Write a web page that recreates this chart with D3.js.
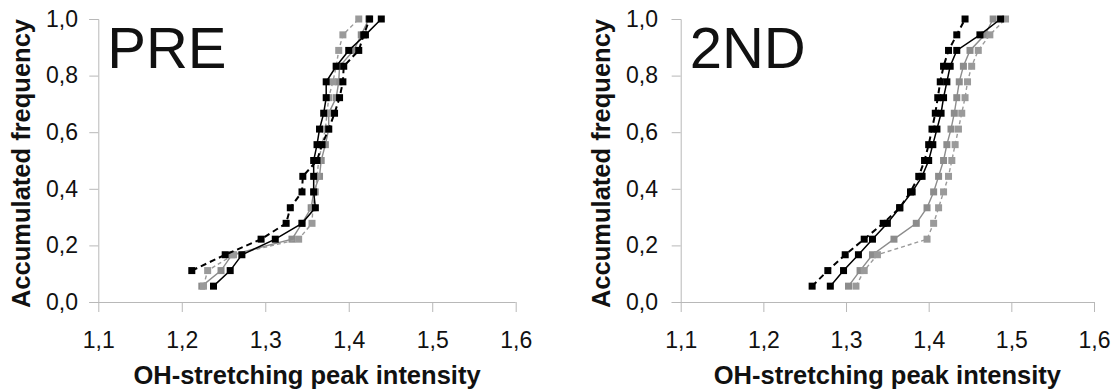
<!DOCTYPE html>
<html>
<head>
<meta charset="utf-8">
<script src="https://cdn.jsdelivr.net/npm/d3@7"></script>
<style>
  html, body { margin: 0; padding: 0; background: #fff; }
  svg { display: block; }
  text { font-family: "Liberation Sans", Arial, sans-serif; fill: #111; }
</style>
</head>
<body>
<svg id="chart" width="1120" height="391"></svg>
<script>
// Cumulative frequency levels (18 samples per group)
const accumulatedFrequency = [0.056, 0.111, 0.167, 0.222, 0.278, 0.333, 0.389, 0.444, 0.5,
                              0.556, 0.611, 0.667, 0.722, 0.778, 0.833, 0.889, 0.944, 1.0];

// PRE: OH-stretching peak intensity per rank
const preBlackSolid  = [1.238, 1.258, 1.272, 1.312, 1.344, 1.360, 1.358, 1.358, 1.358,
                        1.362, 1.365, 1.370, 1.373, 1.373, 1.385, 1.400, 1.420, 1.439];
const preBlackDashed = [null, 1.212, 1.252, 1.295, 1.325, 1.330, 1.344, 1.345, 1.362,
                        1.368, 1.376, 1.383, 1.389, 1.393, 1.394, 1.412, 1.418, 1.425];
const preGraySolid   = [1.224, 1.247, 1.260, 1.332, 1.344, 1.355, 1.358, 1.365, 1.367,
                        1.372, 1.376, 1.376, 1.385, 1.388, 1.389, 1.406, 1.415, 1.424];
const preGrayDashed  = [1.226, 1.231, 1.262, 1.340, 1.356, 1.357, 1.360, 1.362, 1.364,
                        1.368, 1.372, 1.374, 1.376, 1.381, 1.385, 1.388, 1.393, 1.412];

// 2ND: OH-stretching peak intensity per rank
const secBlackSolid  = [1.281, 1.297, 1.315, 1.332, 1.350, 1.365, 1.380, 1.392, 1.400,
                        1.405, 1.410, 1.415, 1.418, 1.422, 1.426, 1.434, 1.462, 1.487];
const secBlackDashed = [1.259, 1.278, 1.299, 1.322, 1.345, 1.365, 1.378, 1.388, 1.395,
                        1.400, 1.404, 1.408, 1.411, 1.414, 1.418, 1.424, 1.434, 1.444];
const secGraySolid   = [1.303, 1.317, 1.332, 1.358, 1.385, 1.398, 1.406, 1.412, 1.418,
                        1.422, 1.427, 1.431, 1.434, 1.437, 1.442, 1.450, 1.468, 1.478];
const secGrayDashed  = [1.312, 1.322, 1.338, 1.398, 1.406, 1.412, 1.418, 1.424, 1.428,
                        1.432, 1.436, 1.440, 1.444, 1.447, 1.452, 1.460, 1.474, 1.493];

const xTicks = [1.1, 1.2, 1.3, 1.4, 1.5, 1.6];
const yTicks = [0, 0.2, 0.4, 0.6, 0.8, 1.0];
const panelTitles = ["PRE", "2ND"];
const xTitle = "OH-stretching peak intensity";
const yTitle = "Accumulated frequency";

const fmt = v => d3.format(".1f")(v).replace(".", ",");

const seriesStyles = [
  { key: "graySolid",   color: "#8c8c8c", width: 1.4, dash: null },
  { key: "grayDashed",  color: "#9a9a9a", width: 1.4, dash: "4,3" },
  { key: "blackDashed", color: "#000",    width: 2,   dash: "6,4" },
  { key: "blackSolid",  color: "#000",    width: 1.5, dash: null }
];

const panels = [
  { title: panelTitles[0], left: 98.3, right: 515.7, yTitleX: 22, tickLabelX: 78,
    series: { blackSolid: preBlackSolid, blackDashed: preBlackDashed,
              graySolid: preGraySolid, grayDashed: preGrayDashed } },
  { title: panelTitles[1], left: 680.7, right: 1094, yTitleX: 602, tickLabelX: 658,
    series: { blackSolid: secBlackSolid, blackDashed: secBlackDashed,
              graySolid: secGraySolid, grayDashed: secGrayDashed } }
];

const plotTop = 19, plotBottom = 302;
const svg = d3.select("#chart");

panels.forEach(p => {
  const x = d3.scaleLinear().domain([1.1, 1.6]).range([p.left, p.right]);
  const y = d3.scaleLinear().domain([0, 1]).range([plotBottom, plotTop]);
  const g = svg.append("g");

  // y axis
  const yAxis = g.append("g")
    .attr("transform", `translate(${p.left},0)`)
    .call(d3.axisLeft(y).tickValues(yTicks).tickSize(9).tickFormat(fmt).tickPadding(12));
  yAxis.select(".domain").attr("stroke", "#b8b8b8").attr("stroke-width", 1);
  yAxis.selectAll(".tick line").attr("stroke", "#b8b8b8");
  yAxis.selectAll(".tick text")
    .attr("x", p.tickLabelX - p.left)
    .style("font-size", "23px").style("font-family", "'Liberation Sans', Arial, sans-serif")
    .attr("fill", "#111");

  // x axis
  const xAxis = g.append("g")
    .attr("transform", `translate(0,${plotBottom})`)
    .call(d3.axisBottom(x).tickValues(xTicks).tickSize(10).tickFormat(fmt).tickPadding(20));
  xAxis.select(".domain").attr("stroke", "#b8b8b8").attr("stroke-width", 1)
    .attr("d", `M${p.left - 7},0.5H${p.right}`);
  xAxis.selectAll(".tick line").attr("stroke", "#b8b8b8");
  xAxis.selectAll(".tick text")
    .style("font-size", "23px").style("font-family", "'Liberation Sans', Arial, sans-serif")
    .attr("fill", "#111");

  // axis titles
  g.append("text")
    .attr("x", (p.left + p.right) / 2).attr("y", 384)
    .attr("text-anchor", "middle")
    .style("font-size", "25.5px").style("font-weight", "bold")
    .text(xTitle);
  g.append("text")
    .attr("transform", `translate(${p.yTitleX + 8},${(plotTop + plotBottom) / 2 + 3}) rotate(-90)`)
    .attr("text-anchor", "middle")
    .style("font-size", "25.5px").style("font-weight", "bold")
    .text(yTitle);

  // panel label
  g.append("text")
    .attr("x", p.left + 9).attr("y", 68)
    .style("font-size", "58px")
    .text(p.title);

  // series
  const line = d3.line().x(d => x(d.v)).y(d => y(d.f));
  seriesStyles.forEach(s => {
    const pts = p.series[s.key]
      .map((v, i) => ({ v, f: accumulatedFrequency[i] }))
      .filter(d => d.v != null);
    g.append("path")
      .datum(pts)
      .attr("d", line)
      .attr("fill", "none")
      .attr("stroke", s.color)
      .attr("stroke-width", s.width)
      .attr("stroke-dasharray", s.dash);
    g.selectAll(null)
      .data(pts)
      .enter().append("rect")
      .attr("x", d => x(d.v) - 3.5)
      .attr("y", d => y(d.f) - 3.5)
      .attr("width", 7).attr("height", 7)
      .attr("fill", s.color);
  });
});
</script>
</body>
</html>
